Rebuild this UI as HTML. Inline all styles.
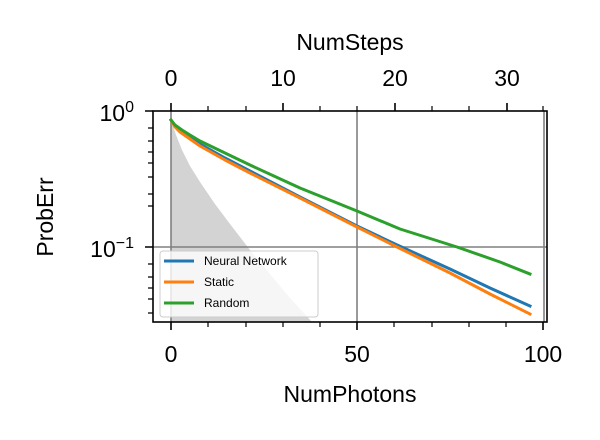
<!DOCTYPE html>
<html><head><meta charset="utf-8"><style>body{margin:0;background:#fff}svg{display:block}text{font-family:"Liberation Sans","DejaVu Sans",sans-serif;fill:#000}</style></head>
<body><svg width="600" height="440" viewBox="0 0 600 440">
<polygon points="171,120 176,135 182,150 190,166 200,182 215,204 230,224 250,250 270,274 290,298 312,322 171,322" fill="#d3d3d3"/>
<line x1="171" y1="111" x2="171" y2="322" stroke="#808080" stroke-width="1.6"/>
<line x1="357" y1="111" x2="357" y2="322" stroke="#808080" stroke-width="1.6"/>
<line x1="544" y1="111" x2="544" y2="322" stroke="#808080" stroke-width="1.6"/>
<line x1="153" y1="247" x2="547" y2="247" stroke="#808080" stroke-width="1.6"/>
<g fill="none" stroke-width="3" stroke-linejoin="round" stroke-linecap="square">
<polyline stroke="#1f77b4" points="171,120 175,126 180,131 190,138 200,144 225,158 250,171 300,197 357,226 395,244 450,269 490,288 530,306"/>
<polyline stroke="#ff7f0e" points="171,120 175,127 180,132 190,139 200,146 225,160 250,173 300,198 357,227 395,246 450,273 490,294 530,314"/>
<polyline stroke="#2ca02c" points="171,120 175,125 182,130 190,135 200,141 225,153 250,165 300,188 357,211 400,229 457,247 500,262 530,274"/>
</g>
<rect x="160" y="251" width="158" height="66" rx="3" fill="#fff" fill-opacity="0.8" stroke="#ccc"/>
<line x1="164" y1="261" x2="194" y2="261" stroke="#1f77b4" stroke-width="3"/>
<line x1="164" y1="282" x2="194" y2="282" stroke="#ff7f0e" stroke-width="3"/>
<line x1="164" y1="303" x2="194" y2="303" stroke="#2ca02c" stroke-width="3"/>
<g font-size="12"><text x="204" y="265">Neural Network</text><text x="204" y="286">Static</text><text x="204" y="307">Random</text></g>
<rect x="153" y="111" width="394" height="211" fill="none" stroke="#000" stroke-width="1.6"/>
<g stroke="#000" stroke-width="1.6">
<path d="M171,322v8M357,322v8M543,322v8M171,111v-8M283,111v-8M395,111v-8M507,111v-8"/>
<path d="M208,322v5M246,322v5M283,322v5M320,322v5M394,322v5M432,322v5M469,322v5M506,322v5M208,111v-5M246,111v-5M320,111v-5M357,111v-5M432,111v-5M469,111v-5M543,111v-5" stroke-width="1.2"/>
<path d="M153,111h-8M153,247h-8"/>
<path d="M153,128h-5M153,141h-5M153,152h-5M153,163h-5M153,177h-5M153,194h-5M153,206h-5M153,264h-5M153,277h-5M153,288h-5M153,299h-5M153,313h-5" stroke-width="1.2"/>
</g>
<g font-size="23" text-anchor="middle">
<text x="171" y="362">0</text><text x="357" y="362">50</text><text x="543" y="362">100</text>
<text x="171" y="86">0</text><text x="283" y="86">10</text><text x="395" y="86">20</text><text x="507" y="86">30</text>
<text x="350" y="402">NumPhotons</text><text x="350" y="50">NumSteps</text>
<text transform="translate(53,217) rotate(-90)">ProbErr</text>
</g>
<g font-size="23" text-anchor="end"><text x="134" y="121">10<tspan font-size="16" dy="-9">0</tspan></text><text x="134" y="257">10<tspan font-size="16" dy="-9">−1</tspan></text></g>
</svg></body></html>
